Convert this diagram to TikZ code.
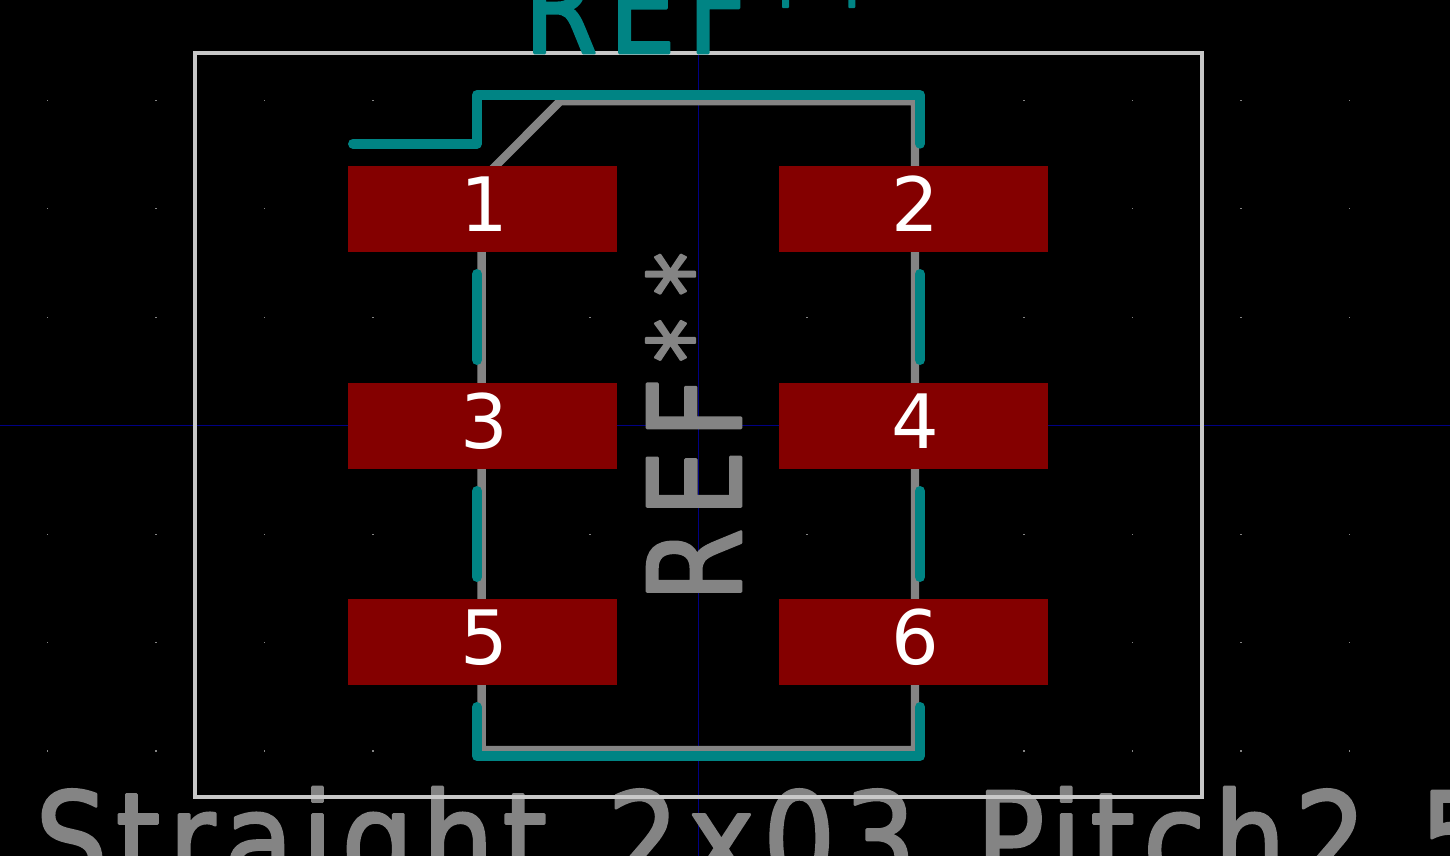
\documentclass[tikz,border=0pt]{standalone}
\usepackage{fontspec}
\usepackage{tikz}
\setmainfont{DejaVu Sans}
\newfontfamily\reffont[FakeStretch=0.82,LetterSpace=9,FakeBold=2]{DejaVu Sans}
\newfontfamily\valuefont[FakeStretch=0.88,LetterSpace=6.5,WordSpace=1.35,FakeBold=2]{DejaVu Sans}
\usetikzlibrary{positioning}

\definecolor{kicadTeal}{RGB}{0,132,132}
\definecolor{kicadGray}{RGB}{132,132,132}
\definecolor{kicadRed}{RGB}{132,0,0}
\definecolor{kicadBlue}{RGB}{0,0,132}
\definecolor{kicadWhite}{RGB}{200,200,200}

\newcommand{\refmark}{REF{\fontsize{54}{70}\selectfont\kern7.5pt\raisebox{7.5pt}{*\kern11pt*}}}

\tikzset{
    padbox/.style={fill=kicadRed, text=white, inner sep=0pt, minimum width=134.5pt, minimum height=43pt,
        text height=27.3pt, text depth=4.5pt, font=\fontsize{37.5}{40}\selectfont,
        execute at begin node=\kern1.5pt},
    silktext/.style={inner sep=0pt, text=kicadTeal, font=\special{pdf:code 1 j 1 J}\reffont\fontsize{64.5}{70}\selectfont},
    fabtext/.style={silktext, text=kicadGray},
    valuetext/.style={fabtext, font=\special{pdf:code 1 j 1 J}\valuefont\fontsize{64.5}{70}\selectfont},
    silkline/.style={draw=kicadTeal, line width=5pt, line cap=round, line join=round},
    fabline/.style={draw=kicadGray, line width=4.2pt, line join=round},
    axisline/.style={draw=kicadBlue, line width=0.5pt},
}

\begin{document}
\begin{tikzpicture}[x=0.5pt, y=-0.5pt]
    \useasboundingbox (0,0) rectangle (1450,856);
    \fill[black] (0,0) rectangle (1450,856);

    % grid
    \foreach \gx in {47.5,156,264.5,373,481.5,590,698.5,807,915.5,1024,1132.5,1241,1349.5}
        \foreach \gy in {100.3,208.8,317.2,425.7,534.1,642.6,751}
            \fill[kicadGray] (\gx-0.6,\gy-0.6) rectangle (\gx+0.6,\gy+0.6);

    % axes
    \draw[axisline] (0,425.7) -- (1450,425.7);
    \draw[axisline] (698.5,0) -- (698.5,856);

    % fab layer
    \node[fabtext, rotate=90, anchor=base] (RefFab) at (741,427) {\refmark};
    \node[valuetext, anchor=base west] (ValueFab) at (35,885) {Straight 2x03 Pitch2.54mm};
    \draw[fabline] (481.6,180) -- (560,101.3) -- (915,101.3) -- (915,750) -- (481.6,750) -- cycle;

    % courtyard
    \draw[kicadWhite, line width=2pt] (194.5,53.5) rectangle (1201.5,797);

    % silkscreen
    \node[silktext, anchor=base] (RefSilk) at (699,53) {\refmark};
    \draw[silkline] (353,143.7) -- (477,143.7) -- (477,95) -- (920,95) -- (920,143.7);
    \draw[silkline] (477,274) -- (477,360);
    \draw[silkline] (920,274) -- (920,360);
    \draw[silkline] (477,491) -- (477,577);
    \draw[silkline] (920,491) -- (920,577);
    \draw[silkline] (477,707) -- (477,756) -- (920,756) -- (920,707);

    % pads
    \node[padbox] (Pad1) at (482.5,209) {1};
    \node[padbox] (Pad2) at (913.5,209) {2};
    \node[padbox] (Pad3) at (482.5,425.5) {3};
    \node[padbox] (Pad4) at (913.5,425.5) {4};
    \node[padbox] (Pad5) at (482.5,642) {5};
    \node[padbox] (Pad6) at (913.5,642) {6};
\end{tikzpicture}
\end{document}
